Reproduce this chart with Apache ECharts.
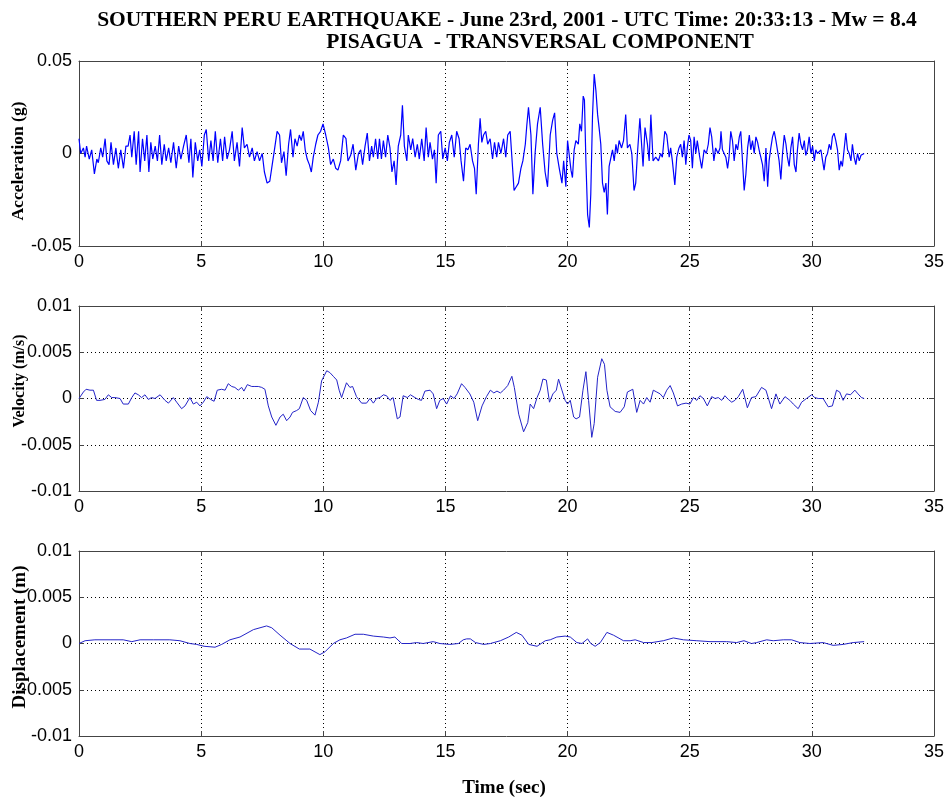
<!DOCTYPE html>
<html><head><meta charset="utf-8">
<script src="https://cdn.jsdelivr.net/npm/echarts@6/dist/echarts.min.js"></script>
<style>html,body{margin:0;padding:0;background:#fff}#c{width:949px;height:800px}</style>
</head><body><div id="c"></div>
<script>
// ---------- DATA ----------
const titleLine1 = 'SOUTHERN PERU EARTHQUAKE - June 23rd, 2001 - UTC Time: 20:33:13 - Mw = 8.4';
const titleLine2 = 'PISAGUA  - TRANSVERSAL COMPONENT';
const xAxisName = 'Time (sec)';
const yNames = ['Acceleration (g)', 'Velocity (m/s)', 'Displacement (m)'];
const xTicks = [0, 5, 10, 15, 20, 25, 30, 35];
const accTicks = [-0.05, 0, 0.05];
const velTicks = [-0.01, -0.005, 0, 0.005, 0.01];
const dispTicks = [-0.01, -0.005, 0, 0.005, 0.01];

// acceleration [time s, g]
const acceleration = [
[0.00,0.008],[0.07,0.000],[0.18,0.003],[0.25,-0.002],[0.31,0.004],[0.42,-0.003],[0.52,0.002],[0.63,-0.011],[0.73,-0.003],[0.79,-0.005],
[0.89,0.003],[0.97,-0.002],[1.07,0.008],[1.14,-0.004],[1.23,-0.006],[1.31,0.006],[1.41,-0.006],[1.51,0.003],[1.61,-0.008],[1.71,0.002],
[1.82,-0.008],[1.92,0.004],[2.01,0.004],[2.09,0.010],[2.16,-0.002],[2.26,0.012],[2.34,-0.006],[2.44,0.012],[2.50,-0.010],[2.60,0.008],
[2.69,-0.004],[2.78,0.010],[2.86,-0.010],[2.94,0.006],[3.02,-0.003],[3.12,0.004],[3.21,-0.004],[3.30,0.010],[3.39,-0.006],[3.49,0.005],
[3.57,-0.004],[3.67,0.003],[3.76,-0.005],[3.87,0.006],[3.98,-0.008],[4.08,0.004],[4.17,-0.003],[4.28,0.004],[4.39,0.010],[4.50,-0.005],
[4.58,0.008],[4.66,-0.013],[4.76,0.006],[4.86,-0.004],[4.94,0.002],[5.03,-0.007],[5.13,0.010],[5.21,0.013],[5.31,-0.004],[5.40,0.007],
[5.49,-0.004],[5.58,0.012],[5.68,-0.005],[5.79,0.008],[5.88,-0.004],[5.96,0.009],[6.06,-0.003],[6.16,0.002],[6.27,0.012],[6.36,-0.004],
[6.47,0.006],[6.57,-0.007],[6.68,0.014],[6.77,0.003],[6.88,0.005],[6.98,-0.002],[7.09,0.003],[7.18,-0.004],[7.29,0.001],[7.39,-0.004],
[7.50,0.000],[7.59,-0.010],[7.70,-0.016],[7.81,-0.015],[7.91,-0.006],[8.00,0.002],[8.11,0.012],[8.21,0.010],[8.29,-0.005],[8.39,0.001],
[8.48,-0.012],[8.58,0.005],[8.66,0.013],[8.76,-0.002],[8.84,0.008],[8.93,0.004],[9.02,0.010],[9.10,0.007],[9.18,0.012],[9.26,0.002],
[9.34,-0.003],[9.43,-0.006],[9.51,-0.010],[9.59,-0.002],[9.69,0.005],[9.78,0.010],[9.89,0.012],[9.99,0.016],[10.10,0.010],[10.21,0.003],
[10.30,-0.006],[10.41,-0.003],[10.51,-0.008],[10.60,-0.009],[10.71,-0.004],[10.82,0.010],[10.93,0.008],[11.01,-0.004],[11.12,-0.001],[11.22,0.005],
[11.33,-0.009],[11.44,0.000],[11.53,0.002],[11.61,-0.006],[11.71,0.004],[11.80,0.011],[11.89,-0.004],[11.98,0.004],[12.05,-0.002],[12.14,0.008],
[12.23,-0.003],[12.30,0.008],[12.38,-0.003],[12.46,0.007],[12.55,-0.002],[12.64,0.010],[12.73,0.003],[12.81,-0.010],[12.90,-0.004],[12.98,-0.017],
[13.07,0.004],[13.17,0.010],[13.24,0.026],[13.32,0.004],[13.42,-0.004],[13.48,0.010],[13.58,0.002],[13.66,0.008],[13.76,-0.002],[13.85,0.005],
[13.93,-0.003],[14.03,0.008],[14.13,-0.004],[14.21,0.014],[14.30,-0.002],[14.37,0.006],[14.47,-0.003],[14.55,0.002],[14.62,-0.016],[14.71,0.010],
[14.81,0.012],[14.89,-0.003],[14.99,0.003],[15.08,-0.004],[15.16,0.006],[15.26,0.010],[15.36,-0.002],[15.46,0.012],[15.56,0.008],[15.64,-0.004],
[15.74,-0.015],[15.83,0.003],[15.92,0.002],[16.01,0.005],[16.11,-0.004],[16.19,-0.008],[16.26,-0.022],[16.35,0.005],[16.42,0.019],[16.49,0.006],
[16.56,0.010],[16.65,0.012],[16.73,0.005],[16.83,0.008],[16.93,-0.003],[17.01,0.006],[17.10,-0.002],[17.17,0.006],[17.27,0.000],[17.38,0.008],
[17.47,-0.002],[17.55,0.010],[17.65,0.012],[17.72,-0.002],[17.81,-0.020],[17.90,-0.018],[17.99,-0.016],[18.09,-0.008],[18.17,-0.004],[18.27,0.005],
[18.33,0.015],[18.40,0.025],[18.50,0.010],[18.58,-0.022],[18.67,0.000],[18.77,0.016],[18.88,0.025],[18.98,0.005],[19.08,-0.010],[19.18,-0.018],
[19.29,0.010],[19.39,0.018],[19.47,0.022],[19.56,0.000],[19.66,-0.008],[19.77,-0.016],[19.84,-0.004],[19.93,-0.018],[20.00,0.007],[20.14,-0.009],
[20.20,-0.013],[20.27,0.002],[20.34,0.007],[20.44,0.005],[20.50,0.016],[20.57,0.012],[20.64,0.031],[20.69,0.029],[20.75,-0.004],[20.82,-0.033],
[20.89,-0.040],[20.95,-0.022],[21.02,0.020],[21.09,0.043],[21.16,0.034],[21.23,0.021],[21.29,0.014],[21.36,0.005],[21.43,-0.016],[21.50,-0.021],
[21.57,-0.016],[21.63,-0.033],[21.70,-0.007],[21.77,-0.006],[21.84,0.002],[21.91,-0.004],[21.98,0.005],[22.04,0.000],[22.11,0.007],[22.21,0.003],
[22.29,0.007],[22.38,0.021],[22.45,0.003],[22.55,0.005],[22.63,0.000],[22.72,-0.020],[22.79,-0.016],[22.86,0.000],[22.96,0.019],[23.04,0.003],
[23.09,-0.007],[23.17,0.014],[23.27,0.005],[23.34,-0.004],[23.41,0.021],[23.50,-0.004],[23.61,-0.002],[23.72,-0.004],[23.81,0.000],[23.88,-0.002],
[23.98,0.012],[24.06,0.010],[24.16,-0.002],[24.22,0.003],[24.29,-0.004],[24.39,-0.017],[24.47,-0.002],[24.56,0.003],[24.63,0.005],[24.70,-0.002],
[24.77,0.007],[24.84,-0.006],[24.90,0.003],[24.97,0.010],[25.04,0.007],[25.11,-0.008],[25.18,0.009],[25.25,0.000],[25.31,0.007],[25.41,-0.002],
[25.49,-0.008],[25.59,0.002],[25.68,0.000],[25.76,0.005],[25.83,0.014],[25.90,0.009],[25.99,-0.004],[26.06,0.003],[26.16,0.000],[26.24,0.003],
[26.28,0.012],[26.34,0.002],[26.41,0.003],[26.48,-0.002],[26.55,-0.008],[26.61,-0.002],[26.68,0.012],[26.75,0.007],[26.82,-0.004],[26.89,0.005],
[26.96,0.002],[27.03,0.009],[27.09,0.012],[27.16,-0.004],[27.23,-0.020],[27.30,-0.011],[27.37,0.003],[27.44,0.010],[27.50,0.002],[27.57,0.007],
[27.64,0.000],[27.71,0.009],[27.78,0.006],[27.84,0.002],[27.91,-0.002],[27.98,-0.006],[28.05,-0.015],[28.12,0.003],[28.19,-0.018],[28.25,-0.004],
[28.32,0.003],[28.39,0.009],[28.46,0.012],[28.53,0.007],[28.59,0.002],[28.66,-0.004],[28.73,-0.014],[28.80,0.000],[28.87,0.010],[28.94,0.005],
[29.00,-0.002],[29.07,-0.007],[29.14,0.003],[29.21,0.009],[29.28,-0.006],[29.35,-0.010],[29.41,0.002],[29.48,0.011],[29.55,0.005],[29.62,0.002],
[29.69,0.007],[29.75,-0.001],[29.82,0.002],[29.89,0.009],[29.96,0.000],[30.03,0.004],[30.10,-0.004],[30.16,0.002],[30.23,0.000],[30.30,-0.001],
[30.37,0.002],[30.44,-0.004],[30.50,-0.009],[30.57,-0.002],[30.64,0.000],[30.71,0.005],[30.78,0.002],[30.84,0.009],[30.91,0.011],[30.98,0.007],
[31.05,0.002],[31.12,-0.009],[31.19,-0.004],[31.25,-0.007],[31.32,0.002],[31.39,0.011],[31.46,0.002],[31.53,0.000],[31.60,-0.004],[31.66,0.005],
[31.73,-0.002],[31.80,-0.006],[31.87,0.000],[31.94,-0.004],[32.01,-0.001],[32.07,-0.002],[32.14,0.000]
];

// velocity [time s, m/s]
const velocity = [
[0.00,0],[0.18,0.0007],[0.29,0.0010],[0.45,0.0009],[0.59,0.0009],[0.72,-0.0002],[0.86,-0.0002],[1.06,-0.0001],[1.20,0.0004],[1.34,0.0001],
[1.47,0.0001],[1.68,0],[1.81,-0.0006],[2.02,-0.0006],[2.16,0.0001],[2.29,0.0006],[2.43,0.0004],[2.56,0.0001],[2.70,0.0004],[2.84,-0.0001],
[2.97,0.0001],[3.11,0],[3.32,0.0004],[3.52,-0.0002],[3.66,-0.0005],[3.86,0.0001],[4.00,-0.0004],[4.20,-0.0011],[4.34,-0.0008],[4.54,0.0001],
[4.68,-0.0006],[4.82,-0.0004],[4.95,-0.0008],[5.09,-0.0004],[5.23,0.0002],[5.39,-0.0001],[5.53,-0.0003],[5.66,0.0009],[5.84,0.0010],[5.98,0.0009],
[6.11,0.0016],[6.25,0.0013],[6.38,0.0012],[6.52,0.0009],[6.66,0.0012],[6.75,0.0008],[6.89,0.0015],[7.07,0.0013],[7.20,0.0013],[7.34,0.0013],
[7.48,0.0012],[7.61,0.0010],[7.75,-0.0008],[7.89,-0.0020],[8.06,-0.0029],[8.23,-0.0020],[8.36,-0.0017],[8.50,-0.0024],[8.64,-0.0020],[8.74,-0.0015],
[8.91,-0.0013],[9.02,-0.0011],[9.18,0.0001],[9.32,-0.0002],[9.48,-0.0013],[9.66,-0.0018],[9.80,-0.0004],[9.93,0.0019],[10.14,0.0030],[10.27,0.0028],
[10.41,0.0024],[10.55,0.0020],[10.65,0.0009],[10.75,0.0001],[10.95,0.0017],[11.09,0.0012],[11.20,0.0013],[11.36,0.0002],[11.57,-0.0005],[11.77,-0.0005],
[11.91,0],[12.05,-0.0005],[12.18,0],[12.32,0.0001],[12.46,0.0004],[12.59,0.0003],[12.73,-0.0002],[12.86,0.0001],[13.03,-0.0022],[13.14,-0.0020],
[13.27,0.0003],[13.44,0.0001],[13.57,0.0004],[13.75,0.0001],[13.89,-0.0001],[14.02,-0.0002],[14.16,0.0008],[14.37,0.0009],[14.50,0.0005],[14.64,-0.0011],
[14.77,-0.0002],[14.91,0],[15.05,-0.0006],[15.21,0.0003],[15.35,0],[15.48,0.0005],[15.66,0.0016],[15.80,0.0012],[16.00,0.0005],[16.16,-0.0004],
[16.32,-0.0024],[16.50,-0.0008],[16.68,0.0002],[16.84,0.0009],[16.98,0.0006],[17.11,0.0008],[17.25,0.0006],[17.38,0.0009],[17.55,0.0014],[17.72,0.0024],
[17.82,0.0012],[18.00,-0.0017],[18.20,-0.0036],[18.37,-0.0026],[18.47,-0.0006],[18.61,-0.0011],[18.75,0.0001],[18.88,0.0009],[18.99,0.0021],[19.13,0.0020],
[19.26,-0.0004],[19.40,0.0005],[19.54,0.0009],[19.63,0.0021],[19.77,0.0009],[19.90,-0.0002],[20.00,-0.0006],[20.11,-0.0002],[20.25,-0.0020],[20.35,-0.0022],
[20.49,-0.0020],[20.63,0.0009],[20.75,0.0029],[20.86,-0.0002],[20.99,-0.0042],[21.09,-0.0027],[21.23,0.0023],[21.40,0.0043],[21.51,0.0037],[21.61,0.0009],
[21.74,-0.0009],[21.95,-0.0014],[22.15,-0.0015],[22.32,-0.0009],[22.45,0.0007],[22.67,0.0010],[22.83,-0.0015],[22.97,-0.0002],[23.11,-0.0006],[23.24,0.0001],
[23.38,-0.0004],[23.51,0.0009],[23.65,0.0007],[23.79,0.0005],[23.92,0.0001],[24.06,0.0009],[24.20,0.0014],[24.33,0.0006],[24.50,-0.0008],[24.67,-0.0006],
[24.85,-0.0005],[25.01,-0.0006],[25.15,0.0001],[25.29,-0.0002],[25.42,0.0003],[25.56,0],[25.72,-0.0008],[25.90,0.0002],[26.04,0],[26.17,0.0001],
[26.31,-0.0002],[26.44,0.0003],[26.58,-0.0001],[26.72,-0.0004],[26.85,-0.0002],[26.99,0.0002],[27.17,0.0010],[27.36,-0.0010],[27.53,0.0001],[27.71,0.0002],
[27.94,0.0012],[28.12,0.0009],[28.35,-0.0011],[28.53,0.0005],[28.69,-0.0006],[28.90,0.0002],[29.10,-0.0002],[29.24,-0.0006],[29.44,-0.0011],[29.58,-0.0004],
[29.78,0],[29.99,0.0004],[30.12,0.0001],[30.26,0],[30.46,0],[30.67,-0.0009],[30.84,-0.0008],[31.01,0.0009],[31.14,0.0007],[31.28,-0.0002],
[31.42,0.0005],[31.58,0.0004],[31.76,0.0009],[31.89,0.0005],[32.03,0.0001],[32.14,0]
];

// displacement [time s, m]
const displacement = [
[0.00,0],[0.25,0.0003],[0.65,0.0004],[1.27,0.0004],[1.81,0.0004],[2.16,0.0002],[2.50,0.0004],[3.04,0.0004],[3.72,0.0004],[4.13,0.0003],
[4.54,0],[4.82,-0.0001],[5.12,-0.0003],[5.57,-0.0004],[5.84,-0.0001],[6.18,0.0004],[6.59,0.0007],[7.14,0.0015],[7.68,0.0019],[7.89,0.0017],
[8.23,0.0009],[8.64,0],[9.02,-0.0006],[9.45,-0.0006],[9.86,-0.0012],[10.07,-0.0009],[10.41,0],[10.68,0.0004],[10.95,0.0006],[11.30,0.0010],
[11.64,0.0010],[12.05,0.0008],[12.46,0.0007],[12.73,0.0006],[12.93,0.0007],[13.21,0],[13.55,0],[13.82,0.0001],[14.09,0],[14.50,0.0002],
[14.77,0],[15.18,-0.0001],[15.53,0],[15.73,0.0004],[15.87,0.0005],[16.02,0.0005],[16.23,0.0001],[16.57,-0.0001],[16.84,0],[17.25,0.0003],
[17.59,0.0007],[17.90,0.0012],[18.13,0.0009],[18.41,-0.0001],[18.75,-0.0003],[19.09,0.0003],[19.29,0.0004],[19.56,0.0007],[19.90,0.0008],[20.11,0.0007],
[20.38,0.0001],[20.59,0],[20.82,0.0005],[20.95,0],[21.13,-0.0003],[21.34,0.0001],[21.61,0.0012],[21.88,0.0009],[22.29,0.0003],[22.56,0.0003],
[22.77,0.0004],[23.11,0.0001],[23.45,0.0001],[23.92,0.0003],[24.33,0.0006],[24.74,0.0004],[25.29,0.0003],[25.83,0.0002],[26.51,0.0002],[26.92,0.0001],
[27.22,0.0003],[27.53,0],[27.74,0.0001],[28.15,0.0004],[28.42,0.0003],[28.83,0.0004],[29.17,0.0004],[29.51,0.0001],[29.92,0],[30.46,0.0001],
[30.87,-0.0002],[31.28,-0.0001],[31.69,0.0001],[32.14,0.0002]
];

// ---------- CHART ----------
const chart = echarts.init(document.getElementById('c'), null, {renderer: 'canvas'});
const tops = [61, 306, 551];
const gridH = 185;
const frameColor = '#444';
const serif = 'Liberation Serif, Times New Roman, serif';
const labelFont = {color: '#000', fontFamily: 'Liberation Sans, Arial, sans-serif', fontSize: 18};
const tickSets = [accTicks, velTicks, dispTicks];
const seriesData = [acceleration, velocity, displacement];
const lineColors = ['#0000ff', '#2424c8', '#2424c8'];
const lineWidths = [1.2, 1, 1];
const yNamePos = [[18, 161], [20, 381], [20, 637]];
const yNameSize = [17.5, 16, 19];

const grids = [], xAxes = [], yAxes = [], series = [];
for (let i = 0; i < 3; i++) {
  grids.push({left: 79, right: 15, top: tops[i], height: gridH, show: false, containLabel: false, outerBoundsMode: 'none'});
  const tk = tickSets[i];
  const xmin = xTicks[0], xmax = xTicks[xTicks.length - 1];
  xAxes.push({
    type: 'value', gridIndex: i, min: xmin, max: xmax, interval: xTicks[1] - xTicks[0], position: 'bottom',
    axisLine: {show: true, onZero: false, lineStyle: {color: frameColor, width: 1}},
    axisTick: {show: true, inside: true, length: 5, lineStyle: {color: frameColor}},
    axisLabel: Object.assign({margin: 7}, labelFont),
    splitLine: {show: true, lineStyle: {type: [1, 3], color: '#000', width: 1}}
  });
  xAxes.push({
    type: 'value', gridIndex: i, min: xmin, max: xmax, interval: xTicks[1] - xTicks[0], position: 'top',
    axisLine: {show: true, onZero: false, lineStyle: {color: frameColor, width: 1}},
    axisTick: {show: true, inside: true, length: 5, lineStyle: {color: frameColor}},
    axisLabel: {show: false}, splitLine: {show: false}
  });
  const ymin = tk[0], ymax = tk[tk.length - 1], yint = tk[1] - tk[0];
  yAxes.push({
    type: 'value', gridIndex: i, min: ymin, max: ymax, interval: yint, position: 'left',
    axisLine: {show: true, onZero: false, lineStyle: {color: frameColor, width: 1}},
    axisTick: {show: true, inside: true, length: 5, lineStyle: {color: frameColor}},
    axisLabel: Object.assign({margin: 7, formatter: v => String(+v.toFixed(4))}, labelFont),
    splitLine: {show: true, lineStyle: {type: [1, 3], color: '#000', width: 1}}
  });
  yAxes.push({
    type: 'value', gridIndex: i, min: ymin, max: ymax, interval: yint, position: 'right',
    axisLine: {show: true, onZero: false, lineStyle: {color: frameColor, width: 1}},
    axisTick: {show: true, inside: true, length: 5, lineStyle: {color: frameColor}},
    axisLabel: {show: false}, splitLine: {show: false}
  });
  series.push({
    type: 'line', xAxisIndex: 2 * i, yAxisIndex: 2 * i, data: seriesData[i],
    showSymbol: false, symbol: 'none', smooth: false,
    lineStyle: {color: lineColors[i], width: lineWidths[i]}, z: 5
  });
}

const graphics = yNames.map((n, i) => ({
  type: 'text', x: yNamePos[i][0], y: yNamePos[i][1], rotation: Math.PI / 2, z: 100,
  style: {text: n, x: 0, y: 0, align: 'center', verticalAlign: 'middle', textAlign: 'center', textVerticalAlign: 'middle',
          fill: '#000', font: 'bold ' + yNameSize[i] + 'px ' + serif}
}));
graphics.push({
  type: 'text', x: 504, y: 788, z: 100,
  style: {text: xAxisName, x: 0, y: 0, align: 'center', verticalAlign: 'middle', textAlign: 'center', textVerticalAlign: 'middle',
          fill: '#000', font: 'bold 19px ' + serif}
});

chart.setOption({
  animation: false,
  backgroundColor: '#fff',
  title: [
    {text: titleLine1, left: 502, top: 4, textAlign: 'center',
     textStyle: {fontFamily: serif, fontWeight: 'bold', fontSize: 21.5, color: '#000'}},
    {text: titleLine2, left: 535, top: 26, textAlign: 'center',
     textStyle: {fontFamily: serif, fontWeight: 'bold', fontSize: 21.5, color: '#000'}}
  ],
  graphic: graphics,
  grid: grids, xAxis: xAxes, yAxis: yAxes, series: series
});
</script>
</body></html>
